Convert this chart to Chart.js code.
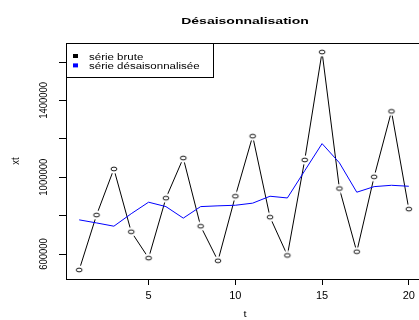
<!DOCTYPE html>
<html>
<head>
<meta charset="utf-8">
<script src="https://cdn.jsdelivr.net/npm/chart.js@4/dist/chart.umd.min.js"></script>
<style>
html, body { margin: 0; padding: 0; background: #fff; overflow: hidden; width: 419px; height: 320px; }
#wrap { width: 428px; height: 320px; position: relative; }
</style>
</head>
<body>
<div id="wrap"><canvas id="chart"></canvas></div>
<script>
const t = [1, 2, 3, 4, 5, 6, 7, 8, 9, 10, 11, 12, 13, 14, 15, 16, 17, 18, 19, 20];
const serieBrute = [517000, 803000, 1043000, 716000, 579000, 891000, 1100000, 745000, 565000, 901000,
                    1214000, 792000, 593000, 1090000, 1652000, 941000, 612000, 1002000, 1343000, 834000];
const serieDesais = [778000, 762000, 745000, 810000, 870000, 847000, 787000, 847000, 851000, 854000,
                     865000, 901000, 892000, 1034000, 1175000, 1075000, 922000, 951000, 958000, 953000];
const xTicks = [5, 10, 15, 20];
const yTicks = [600000, 800000, 1000000, 1200000, 1400000, 1600000];
const yLabels = [600000, 1000000, 1400000];

const FONT = '"Liberation Sans", Arial, sans-serif';

// open circle with a white halo, like R type="b"
function ring() {
    const c = document.createElement('canvas');
    c.width = 12;
    c.height = 10;
    const g = c.getContext('2d');
    g.fillStyle = '#fff';
    g.beginPath();
    g.ellipse(6, 5, 5.5, 4.5, 0, 0, Math.PI * 2);
    g.fill();
    g.strokeStyle = '#000';
    g.lineWidth = 0.9;
    g.beginPath();
    g.ellipse(6, 5, 2.9, 1.9, 0, 0, Math.PI * 2);
    g.stroke();
    return c;
}

const decor = {
    id: 'decor',
    afterDraw(chart) {
        const ctx = chart.ctx;
        const a = chart.chartArea;
        const ys = chart.scales.y;
        ctx.save();
        ctx.fillStyle = '#000';
        ctx.strokeStyle = '#000';
        ctx.lineWidth = 1;

        // plot box
        ctx.strokeRect(Math.round(a.left) + 0.5, Math.round(a.top) + 0.5,
            Math.round(a.right - a.left), Math.round(a.bottom - a.top));

        // title
        ctx.save();
        ctx.translate(245, 23.5);
        ctx.scale(1, 0.7);
        ctx.font = 'bold 14px ' + FONT;
        ctx.textAlign = 'center';
        ctx.textBaseline = 'alphabetic';
        ctx.fillText('Désaisonnalisation', 0, 0);
        ctx.restore();

        // legend
        const lx = Math.round(a.left) + 0.5, ly = Math.round(a.top) + 0.5;
        ctx.fillStyle = '#fff';
        ctx.fillRect(lx, ly, 147, 34);
        ctx.strokeRect(lx, ly, 147, 34);
        chart.data.datasets.forEach((ds, i) => {
            const by = 59.5 + i * 9.4;
            ctx.fillStyle = ds.borderColor;
            ctx.fillRect(73, by - 5.5, 5, 4);
            ctx.save();
            ctx.translate(89, by);
            ctx.scale(1, 0.8);
            ctx.fillStyle = '#000';
            ctx.font = '11.5px ' + FONT;
            ctx.textAlign = 'left';
            ctx.textBaseline = 'alphabetic';
            ctx.fillText(ds.label, 0, 0);
            ctx.restore();
        });

        // y tick labels, rotated
        ctx.fillStyle = '#000';
        yLabels.forEach(v => {
            ctx.save();
            ctx.translate(47.3, ys.getPixelForValue(v));
            ctx.rotate(-Math.PI / 2);
            ctx.scale(0.86, 1);
            ctx.font = '11px ' + FONT;
            ctx.textAlign = 'center';
            ctx.textBaseline = 'alphabetic';
            ctx.fillText(String(v), 0, 0);
            ctx.restore();
        });

        // axis titles
        ctx.save();
        ctx.translate(18.5, (a.top + a.bottom) / 2);
        ctx.rotate(-Math.PI / 2);
        ctx.scale(0.86, 1);
        ctx.font = '11px ' + FONT;
        ctx.textAlign = 'center';
        ctx.fillText('xt', 0, 0);
        ctx.restore();

        ctx.save();
        ctx.translate(245, 317);
        ctx.scale(1, 0.8);
        ctx.font = '11px ' + FONT;
        ctx.textAlign = 'center';
        ctx.fillText('t', 0, 0);
        ctx.restore();

        ctx.restore();
    }
};

const data = {
    datasets: [
        {
            label: 'série brute',
            data: t.map((x, i) => ({ x: x, y: serieBrute[i] })),
            borderColor: '#000000',
            borderWidth: 1,
            pointStyle: ring(),
            pointRadius: 5,
            tension: 0,
            order: 1
        },
        {
            label: 'série désaisonnalisée',
            data: t.map((x, i) => ({ x: x, y: serieDesais[i] })),
            borderColor: '#0000FF',
            borderWidth: 1,
            pointRadius: 0,
            tension: 0,
            order: 0
        }
    ]
};

const config = {
    type: 'line',
    data: data,
    options: {
        responsive: true,
        maintainAspectRatio: false,
        animation: false,
        devicePixelRatio: 1,
        layout: { padding: { top: 43, right: 2, left: 0, bottom: 0 } },
        scales: {
            x: {
                type: 'linear',
                min: 0.24,
                max: 20.76,
                afterBuildTicks: s => { s.ticks = xTicks.map(v => ({ value: v })); },
                afterFit: s => { s.height = 41; },
                border: { display: false },
                grid: {
                    drawOnChartArea: false,
                    drawTicks: true,
                    tickLength: 6,
                    color: '#000'
                },
                ticks: {
                    color: '#000',
                    padding: 4,
                    maxRotation: 0,
                    font: { family: FONT, size: 11 }
                }
            },
            y: {
                type: 'linear',
                min: 470000,
                max: 1699000,
                afterBuildTicks: s => { s.ticks = yTicks.map(v => ({ value: v })); },
                afterFit: s => { s.width = 66; },
                border: { display: false },
                grid: {
                    drawOnChartArea: false,
                    drawTicks: true,
                    tickLength: 7,
                    color: '#000'
                },
                ticks: {
                    callback: () => '',
                    font: { family: FONT, size: 11 }
                }
            }
        },
        plugins: {
            legend: { display: false },
            title: { display: false },
            tooltip: { enabled: false }
        }
    },
    plugins: [decor]
};

new Chart(document.getElementById('chart').getContext('2d'), config);
</script>
</body>
</html>
